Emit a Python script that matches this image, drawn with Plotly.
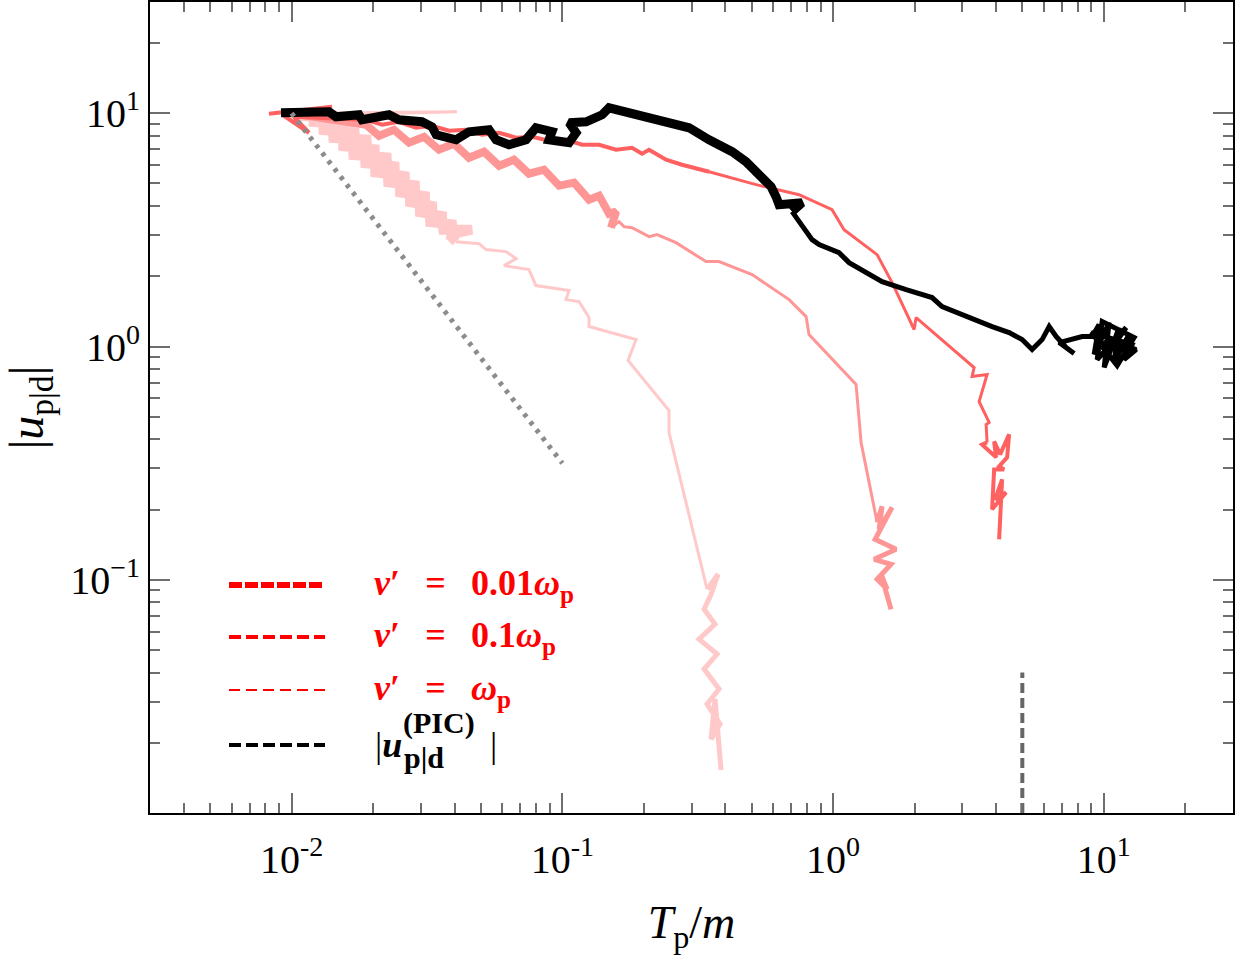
import plotly.graph_objects as go

# ---- data ----
# nu' = omega_p  (lightest)
t_nu1 = [0.01, 0.0408, 0.01065, 0.0156, 0.0116, 0.0170, 0.01263, 0.01774, 0.01374, 0.01965,
         0.01496, 0.02103, 0.0163, 0.0233, 0.01805, 0.0249, 0.01965, 0.02715, 0.02195, 0.02956,
         0.0243, 0.0322, 0.02646, 0.0342, 0.0288, 0.0372, 0.03137, 0.0405, 0.03503, 0.0464,
         0.0382, 0.0405, 0.0493, 0.0522, 0.0619, 0.0675, 0.0609, 0.0753, 0.0799, 0.1059,
         0.1032, 0.1153, 0.1255, 0.1255, 0.1872, 0.1749, 0.2478, 0.2478, 0.3424,
         0.376, 0.3543, 0.3339, 0.3665, 0.3199, 0.3728, 0.3339, 0.3792, 0.3424, 0.3825,
         0.3543, 0.3665, 0.3857]
u_nu1 = [10.0, 10.15, 9.76, 9.565, 9.195, 8.928, 8.499, 8.251, 7.855, 7.70,
         7.257, 6.979, 6.644, 6.448, 6.138, 5.90, 5.617, 5.346, 5.089, 4.893,
         4.611, 4.389, 4.178, 3.978, 3.786, 3.603, 3.43, 3.331, 3.17, 3.17,
         3.017, 2.816, 2.761, 2.603, 2.552, 2.382, 2.223, 2.137, 1.825, 1.737,
         1.589, 1.558, 1.331, 1.218, 1.071, 0.871, 0.532, 0.428, 0.0911,
         0.1056, 0.0867, 0.0747, 0.0645, 0.0556, 0.048, 0.0414, 0.034, 0.0293, 0.02405,
         0.0207, 0.0308, 0.0153]

# nu' = 0.1 omega_p
t_nu01 = [0.0102, 0.01883, 0.02103, 0.0239, 0.02715, 0.03084, 0.03503, 0.0398, 0.0452, 0.0514,
          0.0584, 0.0663, 0.0753, 0.0856, 0.0973, 0.1105, 0.1255, 0.1367, 0.1488, 0.158,
          0.1513, 0.162, 0.169, 0.1809, 0.2091, 0.2238, 0.263, 0.3199, 0.3395, 0.3792,
          0.5021, 0.6879, 0.7947, 0.815, 1.216, 1.269, 1.393, 1.454,
          1.517, 1.479, 1.652, 1.43, 1.709, 1.418, 1.637, 1.454, 1.583, 1.504, 1.637]
u_nu01 = [9.95, 8.928, 8.009, 8.499, 7.476, 7.932, 6.979, 7.402, 6.448, 6.843,
          5.959, 6.32, 5.507, 5.728, 4.893, 5.04, 4.262, 4.434, 3.711, 3.786,
          3.233, 3.43, 3.265, 3.233, 2.958, 3.017, 2.788, 2.429, 2.312, 2.312,
          2.034, 1.589, 1.344, 1.126, 0.688, 0.388, 0.221, 0.1763,
          0.2064, 0.1646, 0.2044, 0.1491, 0.1351, 0.1224, 0.1165, 0.1005, 0.0911, 0.1056, 0.0747]

# nu' = 0.01 omega_p
t_nu001 = [0.00825, 0.0141, 0.00937, 0.0116, 0.0102, 0.01263, 0.01883, 0.0216, 0.0249, 0.0288,
           0.033, 0.0382, 0.0441, 0.0505, 0.0584, 0.0675, 0.0773, 0.0893, 0.1032, 0.1183,
           0.1367, 0.158, 0.1809, 0.197, 0.2091, 0.2416, 0.2768, 0.3484, 0.5194, 0.7488,
           0.9915, 1.098, 1.454, 1.652, 1.992, 2.026, 2.683, 3.318, 3.262, 3.706,
           3.462, 3.77, 3.675, 3.706, 3.552, 4.001, 3.934, 4.14, 4.469, 4.394,
           4.105, 4.283, 3.934, 3.867, 4.356, 3.967, 4.211, 4.105]
u_nu001 = [9.95, 10.66, 9.76, 8.251, 9.66, 9.565, 9.38, 8.928, 9.195, 8.668,
           8.841, 8.416, 8.499, 8.09, 8.251, 7.855, 7.932, 7.625, 7.70, 7.33,
           7.33, 6.979, 7.117, 6.709, 6.979, 6.32, 6.016, 5.617, 4.942, 4.477,
           3.862, 3.17, 2.477, 1.88, 1.183, 1.331, 1.0, 0.813, 0.744, 0.759,
           0.581, 0.4726, 0.463, 0.388, 0.38, 0.3347, 0.392, 0.3447, 0.42, 0.3347,
           0.3063, 0.297, 0.297, 0.2004, 0.2369, 0.221, 0.269, 0.1491]

# PIC result |u_p|d^(PIC)|
t_pic_early = [0.00914, 0.01003, 0.01374, 0.01459, 0.01774, 0.0182, 0.0229, 0.0249, 0.0303, 0.033,
               0.0342, 0.0405, 0.0452, 0.0536, 0.0569, 0.0635, 0.0734, 0.0799, 0.0916, 0.0893,
               0.1059, 0.1124, 0.1059, 0.1224, 0.1402, 0.1488, 0.172, 0.1809, 0.2416, 0.2938,
               0.3484, 0.4236, 0.4773, 0.5466, 0.5902, 0.6157, 0.6316, 0.7681, 0.7057]
u_pic_early = [10.05, 10.05, 10.15, 9.66, 9.85, 9.38, 9.85, 9.38, 9.195, 8.754,
               8.09, 7.70, 8.333, 8.499, 7.70, 7.33, 7.70, 8.668, 8.333, 7.70,
               7.476, 8.251, 9.105, 9.195, 9.85, 10.56, 10.15, 9.85, 9.195, 8.668,
               7.70, 6.843, 6.198, 5.346, 4.845, 4.389, 4.057, 4.138, 3.786]
t_pic_late = [0.7057, 0.7488, 0.8364, 0.8879, 1.052, 1.146, 1.324, 1.517, 1.861, 2.321,
              2.527, 3.099, 3.867, 4.469, 4.99, 5.434, 5.917, 6.282, 6.665, 7.257,
              7.768, 6.838, 8.317, 9.054, 9.608, 9.21, 10.46, 10.03, 11.39, 10.91,
              12.4, 11.88, 13.16, 10.46, 9.608, 11.39, 12.2, 12.72, 8.98, 11.2,
              12.94, 9.86, 9.45, 12.09, 10.29]
u_pic_late = [3.786, 3.43, 2.872, 2.734, 2.527, 2.289, 2.075, 1.898, 1.754, 1.621,
              1.483, 1.344, 1.218, 1.148, 1.071, 0.971, 1.071, 1.218, 1.104, 0.99,
              0.933, 1.04, 1.104, 1.104, 1.242, 0.924, 1.267, 0.813, 1.206, 0.863,
              1.126, 0.88, 0.971, 1.071, 0.99, 1.02, 0.924, 1.02, 1.148, 0.829,
              1.093, 1.28, 0.88, 1.206, 0.924]

# reference power law and marker line
t_ref = [0.01, 0.1]
u_ref = [10.0, 0.316]
t_mark = [5.0, 5.0]
u_mark = [0.01, 0.04]

x_ticks = [0.01, 0.1, 1, 10]
x_ticktext = ["10<sup>-2</sup>", "10<sup>-1</sup>", "10<sup>0</sup>", "10<sup>1</sup>"]
y_ticks = [0.1, 1, 10]
y_ticktext = ["10<sup>\u22121</sup>", "10<sup>0</sup>", "10<sup>1</sup>"]
x_minor = [0.003, 0.004, 0.005, 0.006, 0.007, 0.008, 0.009,
           0.02, 0.03, 0.04, 0.05, 0.06, 0.07, 0.08, 0.09,
           0.2, 0.3, 0.4, 0.5, 0.6, 0.7, 0.8, 0.9,
           2, 3, 4, 5, 6, 7, 8, 9, 20, 30]
y_minor = [0.02, 0.03, 0.04, 0.05, 0.06, 0.07, 0.08, 0.09,
           0.2, 0.3, 0.4, 0.5, 0.6, 0.7, 0.8, 0.9,
           2, 3, 4, 5, 6, 7, 8, 9, 20, 30]

SP = "\u2002\u2009"
legend_labels = ["<b><i>\u03bd</i>\u2032" + SP + "=" + SP + "0.01<i>\u03c9</i><sub>p</sub></b>",
                 "<b><i>\u03bd</i>\u2032" + SP + "=" + SP + "0.1<i>\u03c9</i><sub>p</sub></b>",
                 "<b><i>\u03bd</i>\u2032" + SP + "=" + SP + "<i>\u03c9</i><sub>p</sub></b>"]
legend_colors = ["#FF0000", "#FF0000", "#FF0000", "#000000"]
legend_widths = [6, 4, 2, 4]
legend_dashes = ["13px,3px", "12px,5px", "11px,6px", "12px,5px"]

C_STRONG = "#FF6060"
C_MID = "#FF9696"
C_LIGHT = "#FFC9C9"


def seg(xs, ys, a, b, color, width, dash=None):
    line = dict(color=color, width=width)
    if dash:
        line["dash"] = dash
    return go.Scatter(x=xs[a:b], y=ys[a:b], mode="lines", line=line, showlegend=False,
                      hoverinfo="skip")


fig = go.Figure()
# nu' = omega_p : start excursion, noisy band, tail, final noisy cluster
fig.add_trace(seg(t_nu1, u_nu1, 0, 3, C_LIGHT, 3))
fig.add_trace(seg(t_nu1, u_nu1, 2, 32, C_LIGHT, 10))
fig.add_trace(seg(t_nu1, u_nu1, 31, 49, C_LIGHT, 3))
fig.add_trace(seg(t_nu1, u_nu1, 48, None, C_LIGHT, 5))
# nu' = 0.1 omega_p
fig.add_trace(seg(t_nu01, u_nu01, 0, 21, C_MID, 8))
fig.add_trace(seg(t_nu01, u_nu01, 20, 38, C_MID, 3))
fig.add_trace(seg(t_nu01, u_nu01, 37, None, C_MID, 5))
# nu' = 0.01 omega_p
fig.add_trace(seg(t_nu001, u_nu001, 0, 28, C_STRONG, 4))
fig.add_trace(seg(t_nu001, u_nu001, 27, 44, C_STRONG, 3))
fig.add_trace(seg(t_nu001, u_nu001, 43, None, C_STRONG, 4))
# PIC
fig.add_trace(seg(t_pic_early, u_pic_early, 0, None, "black", 9))
fig.add_trace(seg(t_pic_late, u_pic_late, 0, None, "black", 5))
# reference lines
fig.add_trace(seg(t_ref, u_ref, 0, None, "#8c8c8c", 5, "4px,6px"))
fig.add_trace(seg(t_mark, u_mark, 0, None, "#666666", 4, "10px,5px"))


def px_x(p):
    return (p - 150) / 1083.0


def px_y(p):
    return (813 - p) / 811.0


# custom legend (long dashed handles like the reference)
row_y = [px_y(585), px_y(637), px_y(690), px_y(745)]
shapes = []
annotations = []
for i in range(4):
    shapes.append(dict(type="line", xref="paper", yref="paper", x0=px_x(229), x1=px_x(325),
                       y0=row_y[i], y1=row_y[i],
                       line=dict(color=legend_colors[i], width=legend_widths[i], dash=legend_dashes[i])))
for i, lab in enumerate(legend_labels):
    annotations.append(dict(xref="paper", yref="paper", x=px_x(372), y=row_y[i], xanchor="left",
                            yanchor="middle", showarrow=False, text=lab,
                            font=dict(family="Liberation Serif", size=36, color=legend_colors[i])))
# PIC label with stacked super/subscript
pic_parts = [("|<b><i>u</i></b>", 373, 745, 36),
             ("<b>(PIC)</b>", 401, 723, 30),
             ("<b>p|d</b>", 402, 757, 30),
             ("|", 488, 745, 36)]
for txt, xx, yy, sz in pic_parts:
    annotations.append(dict(xref="paper", yref="paper", x=px_x(xx), y=px_y(yy), xanchor="left",
                            yanchor="middle", showarrow=False, text=txt,
                            font=dict(family="Liberation Serif", size=sz, color="black")))

axis_common = dict(type="log", showgrid=False, zeroline=False, showline=True, linecolor="black",
                   linewidth=2, mirror="ticks", ticks="inside", ticklen=20, tickwidth=2,
                   tickcolor="#6e6e6e", tickfont=dict(family="Liberation Serif", size=40, color="black"))

fig.update_layout(
    width=1236, height=955,
    margin=dict(l=150, r=3, t=2, b=142, autoexpand=False),
    paper_bgcolor="white", plot_bgcolor="white",
    font=dict(family="Liberation Serif", color="black"),
    xaxis=dict(axis_common, range=[-2.5229, 1.4771], tickvals=x_ticks, ticktext=x_ticktext,
               ticklabelstandoff=10,
               minor=dict(tickvals=x_minor, ticks="inside", ticklen=10, tickwidth=1.5, tickcolor="#6e6e6e"),
               title=dict(text="<i>T</i><sub>p</sub>/<i>m</i>", font=dict(size=46), standoff=30)),
    yaxis=dict(axis_common, range=[-2.0, 1.4771], tickvals=y_ticks, ticktext=y_ticktext,
               minor=dict(tickvals=y_minor, ticks="inside", ticklen=10, tickwidth=1.5, tickcolor="#6e6e6e"),
               title=dict(text="|<i>u</i><sub>p|d</sub>|", font=dict(size=48), standoff=40)),
    shapes=shapes, annotations=annotations,
)

fig.write_html("out.html")
